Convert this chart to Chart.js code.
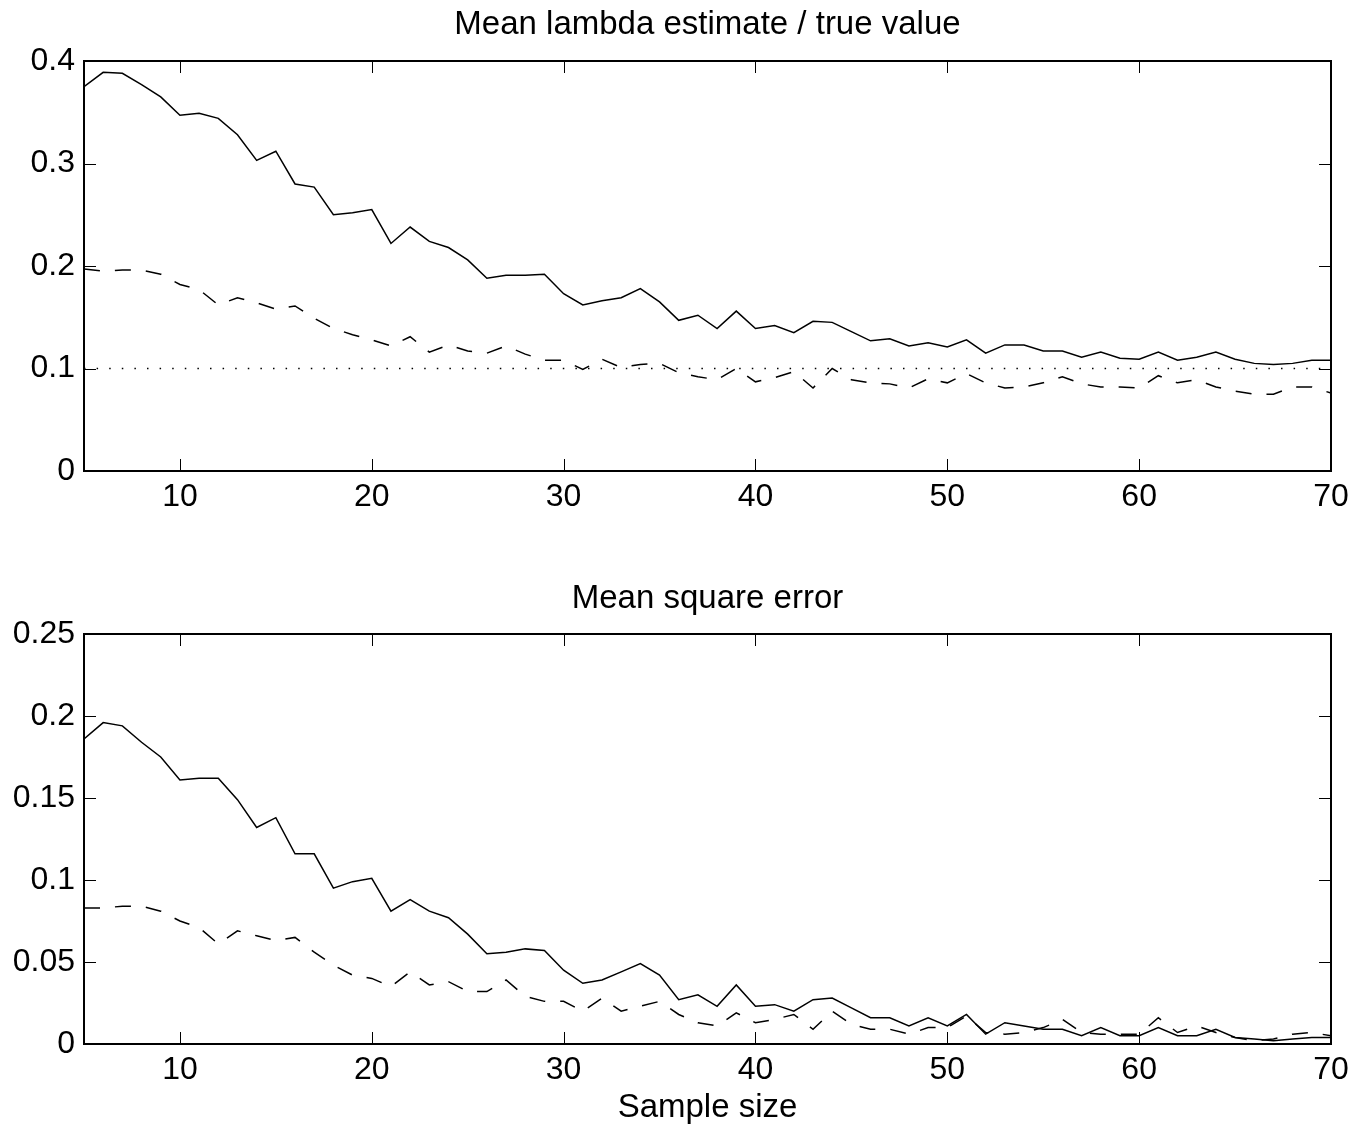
<!DOCTYPE html>
<html>
<head>
<meta charset="utf-8">
<script src="https://cdn.jsdelivr.net/npm/chart.js@4/dist/chart.umd.min.js"></script>
<style>
  html, body { margin: 0; padding: 0; background: #fff; }
  body { width: 1369px; height: 1126px; position: relative; overflow: hidden; }
  .box { position: absolute; left: 0; width: 1369px; }
  #b1 { top: 0; height: 531px; }
  #b2 { top: 573px; height: 556px; }
</style>
</head>
<body>
<div class="box" id="b1"><canvas id="c1"></canvas></div>
<div class="box" id="b2"><canvas id="c2"></canvas></div>
<script>
// ---- data ----
const sampleSizes = [5,6,7,8,9,10,11,12,13,14,15,16,17,18,19,20,21,22,23,24,25,26,27,28,29,30,31,32,33,34,35,36,37,38,39,40,41,42,43,44,45,46,47,48,49,50,51,52,53,54,55,56,57,58,59,60,61,62,63,64,65,66,67,68,69,70];

const meanRatioSolid = [0.375,0.389,0.388,0.377,0.365,0.347,0.349,0.344,0.328,0.303,0.312,0.280,0.277,0.250,0.252,0.255,0.222,0.238,0.224,0.218,0.206,0.188,0.191,0.191,0.192,0.173,0.162,0.166,0.169,0.178,0.165,0.147,0.152,0.139,0.156,0.139,0.142,0.135,0.146,0.145,0.136,0.127,0.129,0.122,0.125,0.121,0.128,0.115,0.123,0.123,0.117,0.117,0.111,0.116,0.110,0.109,0.116,0.108,0.111,0.116,0.109,0.105,0.104,0.105,0.108,0.108];

const meanRatioDashed = [0.197,0.195,0.196,0.196,0.192,0.182,0.177,0.162,0.169,0.164,0.158,0.161,0.149,0.139,0.133,0.128,0.122,0.131,0.116,0.123,0.117,0.115,0.122,0.114,0.108,0.108,0.099,0.109,0.101,0.104,0.105,0.096,0.092,0.089,0.100,0.087,0.091,0.097,0.081,0.100,0.089,0.086,0.085,0.081,0.090,0.086,0.095,0.086,0.081,0.082,0.086,0.092,0.085,0.082,0.082,0.081,0.093,0.086,0.089,0.082,0.078,0.075,0.075,0.082,0.082,0.076];

const trueValueRange = [5, 70];
const trueValue = [0.1, 0.1];

const mseSolid = [0.186,0.196,0.194,0.184,0.175,0.161,0.162,0.162,0.149,0.132,0.138,0.116,0.116,0.095,0.099,0.101,0.081,0.088,0.081,0.077,0.067,0.055,0.056,0.058,0.057,0.045,0.037,0.039,0.044,0.049,0.042,0.027,0.030,0.023,0.036,0.023,0.024,0.020,0.027,0.028,0.022,0.016,0.016,0.011,0.016,0.011,0.018,0.006,0.013,0.011,0.009,0.009,0.005,0.010,0.005,0.005,0.010,0.005,0.005,0.009,0.004,0.003,0.002,0.003,0.004,0.004];

const mseDashed = [0.083,0.083,0.084,0.084,0.081,0.075,0.071,0.061,0.069,0.066,0.063,0.065,0.056,0.048,0.042,0.040,0.035,0.044,0.036,0.038,0.032,0.032,0.039,0.029,0.026,0.026,0.020,0.028,0.020,0.023,0.026,0.018,0.013,0.011,0.019,0.013,0.015,0.018,0.009,0.020,0.012,0.009,0.009,0.006,0.010,0.010,0.017,0.007,0.006,0.007,0.010,0.015,0.007,0.006,0.006,0.006,0.016,0.007,0.011,0.007,0.004,0.002,0.003,0.006,0.007,0.005];

const xTicks = [10, 20, 30, 40, 50, 60, 70];
const yTicksTop = [0, 0.1, 0.2, 0.3, 0.4];
const yTicksBottom = [0, 0.05, 0.1, 0.15, 0.2, 0.25];
const titleTop = 'Mean lambda estimate / true value';
const titleBottom = 'Mean square error';
const xAxisTitle = 'Sample size';

// ---- rendering ----
Chart.defaults.font.family = "'Liberation Sans', Arial, sans-serif";
Chart.defaults.color = '#000';

const pts = (xs, ys) => xs.map((x, i) => ({ x: x, y: ys[i] }));

const framePlugin = {
  id: 'frame',
  afterDatasetsDraw(chart) {
    const { ctx, chartArea: a, scales } = chart;
    const xs = scales.x, ys = scales.y;
    const L = 12;
    ctx.save();
    ctx.strokeStyle = '#000';
    ctx.lineWidth = 1;
    ctx.beginPath();
    xs.ticks.forEach(t => {
      const px = Math.round(xs.getPixelForValue(t.value)) + 0.5;
      ctx.moveTo(px, a.bottom); ctx.lineTo(px, a.bottom - L);
      ctx.moveTo(px, a.top); ctx.lineTo(px, a.top + L);
    });
    ys.ticks.forEach(t => {
      const py = Math.round(ys.getPixelForValue(t.value)) + 0.5;
      ctx.moveTo(a.left, py); ctx.lineTo(a.left + L, py);
      ctx.moveTo(a.right, py); ctx.lineTo(a.right - L, py);
    });
    ctx.stroke();
    ctx.lineWidth = 2;
    ctx.strokeRect(a.left, a.top, a.right - a.left, a.bottom - a.top);
    ctx.restore();
  }
};

function makeChart(canvasId, title, titlePadTop, datasets, yTicks, yMax, xTitle, xAxisHeight) {
  return new Chart(document.getElementById(canvasId), {
    type: 'line',
    data: { datasets: datasets },
    options: {
      responsive: true,
      maintainAspectRatio: false,
      animation: false,
      events: [],
      layout: { padding: { left: 0, right: 38, top: 0, bottom: 0 } },
      plugins: {
        legend: { display: false },
        tooltip: { enabled: false },
        title: {
          display: true,
          text: title,
          fullSize: false,
          color: '#000',
          font: { size: 33, weight: 'normal' },
          padding: { top: titlePadTop, bottom: 61 - 39.6 - titlePadTop }
        }
      },
      elements: { point: { radius: 0 }, line: { tension: 0 } },
      scales: {
        x: {
          type: 'linear',
          min: 5, max: 70,
          grid: { display: false, drawTicks: false },
          border: { display: false },
          afterBuildTicks: s => { s.ticks = xTicks.map(v => ({ value: v })); },
          afterFit: s => { s.height = xAxisHeight; },
          ticks: { font: { size: 32 }, color: '#000', padding: 7, maxRotation: 0, autoSkip: false,
                   callback: v => String(v) },
          title: xTitle ? { display: true, text: xTitle, color: '#000', font: { size: 33 }, padding: { top: 0, bottom: 1 } } : { display: false }
        },
        y: {
          type: 'linear',
          min: 0, max: yMax,
          grid: { display: false, drawTicks: false },
          border: { display: false },
          afterBuildTicks: s => { s.ticks = yTicks.map(v => ({ value: v })); },
          afterFit: s => { s.width = 84; },
          ticks: { font: { size: 32 }, color: '#000', padding: 9, autoSkip: false,
                   callback: v => String(v) }
        }
      }
    },
    plugins: [framePlugin]
  });
}

const solidStyle = { borderColor: '#000', borderWidth: 1.5, fill: false };
const dashedStyle = { borderColor: '#000', borderWidth: 1.5, fill: false, borderDash: [16, 15] };
const dottedStyle = { borderColor: '#000', borderWidth: 1.5, fill: false, borderDash: [1.5, 11.1] };

makeChart('c1', titleTop, 4.7, [
  Object.assign({ label: 'solid', data: pts(sampleSizes, meanRatioSolid) }, solidStyle),
  Object.assign({ label: 'dashed', data: pts(sampleSizes, meanRatioDashed) }, dashedStyle),
  Object.assign({ label: 'true', data: pts(trueValueRange, trueValue) }, dottedStyle)
], yTicksTop, 0.4, null, 60);

makeChart('c2', titleBottom, 6.2, [
  Object.assign({ label: 'solid', data: pts(sampleSizes, mseSolid) }, solidStyle),
  Object.assign({ label: 'dashed', data: pts(sampleSizes, mseDashed) }, dashedStyle)
], yTicksBottom, 0.25, xAxisTitle, 85);
</script>
</body>
</html>
